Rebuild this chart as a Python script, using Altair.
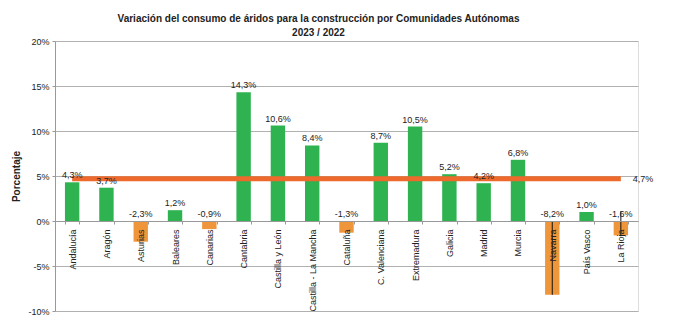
import altair as alt
import pandas as pd

cats = ["Andalucía", "Aragón", "Asturias", "Baleares", "Canarias", "Cantabria",
        "Castilla y León", "Castilla - La Mancha", "Cataluña", "C. Valenciana",
        "Extremadura", "Galicia", "Madrid", "Murcia", "Navarra", "País Vasco", "La Rioja"]
values = [4.3, 3.7, -2.3, 1.2, -0.9, 14.3, 10.6, 8.4, -1.3, 8.7, 10.5, 5.2, 4.2, 6.8, -8.2, 1.0, -1.6]
average = 4.7
err_cats = ["Navarra", "La Rioja"]
err_lo = [-8.2, -1.7]
err_hi = [0.0, 1.1]

FONT = "Liberation Sans"
GREEN = "#2fb350"
ORANGE = "#f0963a"
AVG = "#ee6a2c"

df = pd.DataFrame({"cat": cats, "v": values})
df["lbl"] = df["v"].map(lambda x: f"{x:.1f}".replace(".", ",") + "%")
df["ly"] = df["v"].clip(lower=0)
df["neg"] = df["v"] < 0

avg_df = pd.DataFrame({"cat": [cats[0]], "cat2": [cats[-1]], "v": [average]})
avg_lbl = pd.DataFrame({"cat": [cats[-1]], "v": [average],
                        "lbl": [f"{average:.1f}".replace(".", ",") + "%"]})
err_df = pd.DataFrame({"cat": err_cats, "lo": err_lo, "hi": err_hi})

xsc = alt.Scale(domain=cats, paddingInner=0.58, paddingOuter=0.29)
ysc = alt.Scale(domain=[-10, 20], nice=False)

x_enc = alt.X("cat:N", scale=xsc, sort=cats, title=None,
              axis=alt.Axis(orient="bottom", offset=-90, labelAngle=-90,
                            labelAlign="right", labelBaseline="middle",
                            labelPadding=5, labelFontSize=9, labelColor="#222",
                            labelFont=FONT, tickBand="extent", tickSize=3,
                            tickColor="#999", domainColor="#999", grid=False,
                            zindex=1))
y_enc = alt.Y("v:Q", scale=ysc, title="Porcentaje",
              axis=alt.Axis(values=[-10, -5, 0, 5, 10, 15, 20],
                            labelExpr="datum.value + '%'", labelFontSize=9,
                            labelColor="#222", labelFont=FONT, tickSize=3,
                            tickColor="#999", domainColor="#999",
                            gridColor="#b0b0b0", titleFont=FONT,
                            titleFontSize=10, titleFontWeight="bold",
                            titleColor="#222", titlePadding=6, labelPadding=3))

bars = alt.Chart(df).mark_bar().encode(
    x=x_enc, y=y_enc,
    color=alt.condition("datum.neg", alt.value(ORANGE), alt.value(GREEN)),
)

labels = alt.Chart(df).mark_text(dy=-7, fontSize=9, font=FONT, color="#222").encode(
    x=alt.X("cat:N", scale=xsc, sort=cats),
    y=alt.Y("ly:Q", scale=ysc),
    text="lbl:N",
)

avg_line = alt.Chart(avg_df).mark_rule(color=AVG, strokeWidth=5).encode(
    x=alt.X("cat:N", scale=xsc, sort=cats),
    x2="cat2:N",
    y=alt.Y("v:Q", scale=ysc),
)

avg_text = alt.Chart(avg_lbl).mark_text(align="left", dx=12, fontSize=9, font=FONT,
                                        color="#222").encode(
    x=alt.X("cat:N", scale=xsc, sort=cats),
    y=alt.Y("v:Q", scale=ysc),
    text="lbl:N",
)

errs = alt.Chart(err_df).mark_rule(color="#111", strokeWidth=1).encode(
    x=alt.X("cat:N", scale=xsc, sort=cats),
    y=alt.Y("lo:Q", scale=ysc),
    y2="hi:Q",
)

chart = alt.layer(bars, avg_line, errs, labels, avg_text).properties(
    width=583, height=270,
    autosize=alt.AutoSizeParams(type="none"),
    padding={"left": 55, "top": 41, "right": 35, "bottom": 21},
    title=alt.TitleParams(
        text=["Variación del consumo de áridos para la construcción por Comunidades Autónomas",
              "2023 / 2022"],
        font=FONT, fontSize=10, fontWeight="bold", color="#222",
        anchor="middle", dx=-28, offset=-1, lineHeight=14),
).configure_view(stroke=None).configure(background="white")

chart.save("out.html", embed_options={"renderer": "svg", "actions": False})
